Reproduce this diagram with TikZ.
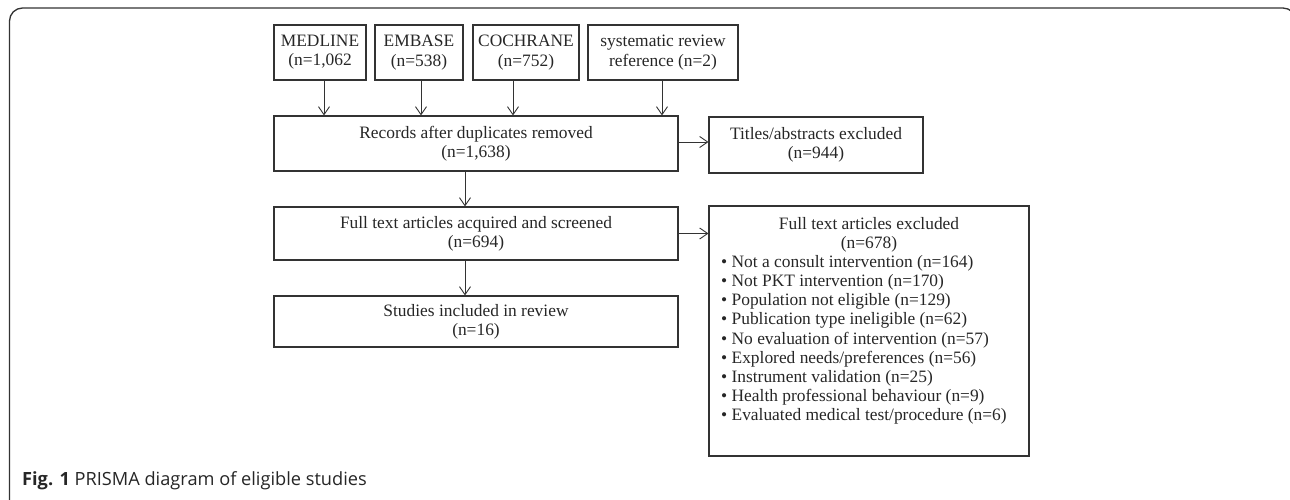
\documentclass[tikz,border=0pt]{standalone}
\usepackage{fontspec}
\setmainfont{Liberation Serif}
\newfontfamily\capfont{Open Sans}
\usetikzlibrary{arrows.meta}
\definecolor{boxline}{HTML}{333333}
\tikzset{
  x=1pt, y=-1pt,
  box/.style={draw=boxline, line width=1.1pt, inner sep=0pt, align=center,
    font=\fontsize{17.4}{19.2}\selectfont, text=black!85},
  arr/.style={draw=boxline, line width=0.9pt, -{Straight Barb[length=8pt,width=11pt]}},
  plain/.style={inner sep=0pt, font=\fontsize{17.4}{19.2}\selectfont, text=black!85},
}
\begin{document}
\begin{tikzpicture}
\useasboundingbox (0,0) rectangle (1290,500);
\begin{scope}
\clip (0,0) rectangle (1290,500);
\draw[draw=black!80, line width=1.3pt, rounded corners=13pt] (9.5,8) rectangle (1296,520);
\end{scope}
% top row
\node[box, minimum width=92pt, minimum height=55pt] (med) at (320,52.5) {MEDLINE\\(n=1,062};
\node[box, minimum width=88pt, minimum height=55pt] (emb) at (419,52.5) {EMBASE\\(n=538)};
\node[box, minimum width=106pt, minimum height=55pt] (coch) at (526,52.5) {COCHRANE\\(n=752)};
\node[box, minimum width=150pt, minimum height=55pt] (sys) at (663,52.5) {systematic review\\reference (n=2)};
% main column
\node[box, minimum width=404pt, minimum height=55pt] (rec) at (476,143.5) {Records after duplicates removed\\(n=1,638)};
\node[box, minimum width=214pt, minimum height=56pt] (tit) at (816,145) {Titles/abstracts excluded\\(n=944)};
\node[box, minimum width=404pt, minimum height=53pt] (full) at (476,233.5) {Full text articles acquired and screened\\(n=694)};
\node[box, minimum width=404pt, minimum height=51pt] (stu) at (476,321.5) {Studies included in review\\(n=16)};
\node[box, minimum width=320pt, minimum height=250pt] (exc) at (869,331) {};
\node[plain, align=center, anchor=north] (exct) at (869,217) {Full text articles excluded\\(n=678)};
\node[plain, align=left, anchor=north west] (excl) at (721,255) {%
\textbullet\ Not a consult intervention (n=164)\\
\textbullet\ Not PKT intervention (n=170)\\
\textbullet\ Population not eligible (n=129)\\
\textbullet\ Publication type ineligible (n=62)\\
\textbullet\ No evaluation of intervention (n=57)\\
\textbullet\ Explored needs/preferences (n=56)\\
\textbullet\ Instrument validation (n=25)\\
\textbullet\ Health professional behaviour (n=9)\\
\textbullet\ Evaluated medical test/procedure (n=6)};
% connectors
\draw[arr] ([xshift=4pt]med.south) -- ([xshift=4pt]med.south |- rec.north);
\draw[arr] ([xshift=2pt]emb.south) -- ([xshift=2pt]emb.south |- rec.north);
\draw[arr] ([xshift=-13pt]coch.south) -- ([xshift=-13pt]coch.south |- rec.north);
\draw[arr] ([xshift=-1pt]sys.south) -- ([xshift=-1pt]sys.south |- rec.north);
\draw[arr] ([yshift=1.5pt]rec.east) -- ([yshift=1.5pt]rec.east -| tit.west);
\draw[arr] ([xshift=-11pt]rec.south) -- ([xshift=-11pt]rec.south |- full.north);
\draw[arr] (full.east) -- (full.east -| exc.west);
\draw[arr] ([xshift=-11pt]full.south) -- ([xshift=-11pt]full.south |- stu.north);
% caption
\node[anchor=base west, inner sep=0pt, font=\capfont\fontsize{18.2}{20}\selectfont, text=black!85] (cap) at (22,485) {\textbf{Fig. 1} PRISMA diagram of eligible studies};
\end{tikzpicture}
\end{document}
